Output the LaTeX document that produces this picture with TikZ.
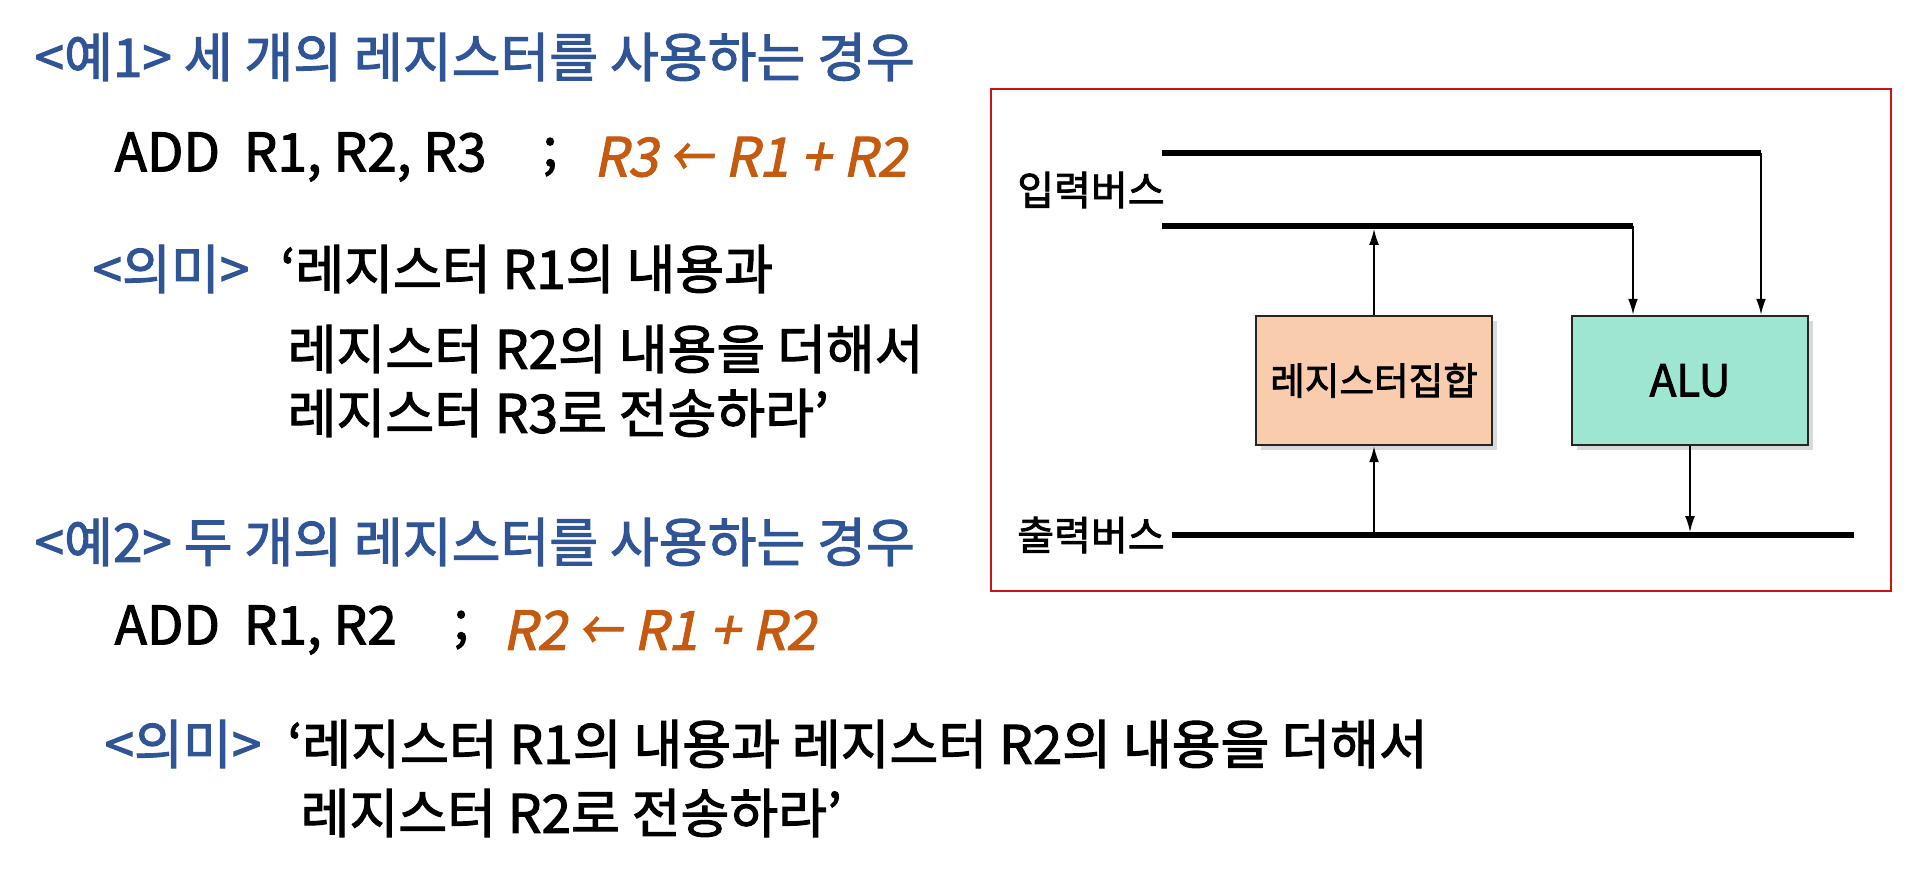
\documentclass[tikz,border=0pt]{standalone}
\usepackage{fontspec}
\setmainfont[AutoFakeSlant=0.2, FakeBold=2]{Noto Sans CJK KR}
\usetikzlibrary{arrows.meta,shadows}
\definecolor{TitleBlue}{RGB}{47,85,151}
\definecolor{DarkOrange}{RGB}{197,90,17}
\definecolor{FrameRed}{RGB}{200,20,20}
\definecolor{RegPeach}{RGB}{248,204,173}
\definecolor{AluTeal}{RGB}{158,230,210}
\newcommand{\shortarrow}{\scalebox{0.8}[1]{←}}
\tikzset{
	txt/.style={anchor=west, inner sep=0pt, font=\fontsize{15.1}{18}\selectfont},
	headline/.style={txt, text=TitleBlue},
	calc/.style={txt, text=DarkOrange, font=\fontsize{15.3}{18}\selectfont\itshape},
	tag/.style={inner sep=0pt, font=\fontsize{11.4}{14}\selectfont},
	unitbox/.style={draw=black!85, line width=0.8pt, minimum width=2.36cm, minimum height=1.29cm,
		inner sep=0pt, drop shadow={opacity=0.3, shadow xshift=1.5pt, shadow yshift=-1.5pt}},
	bus/.style={line width=1.7pt},
	flow/.style={-{Latex[length=4.5pt, width=2.8pt]}, line width=0.4pt},
}
\begin{document}
\begin{tikzpicture}
		\useasboundingbox (0,0) rectangle (19.18,-8.78);
		% 예1
		\node[headline] (ex1) at (0.34,-0.57) {<예1> 세 개의 레지스터를 사용하는 경우};
		\node[txt] (add1) at (1.14,-1.57) {ADD\ \ R1, R2, R3};
		\node[txt] (semi1) at (5.42,-1.57) {;};
		\node[calc] (op1) at (5.93,-1.57) {R3 \shortarrow{} R1 + R2};
		\node[headline] (mean1) at (0.92,-2.69) {<의미>};
		\node[txt] (m1a) at (2.80,-2.69) {‘레지스터 R1의 내용과};
		\node[txt] (m1b) at (2.87,-3.49) {레지스터 R2의 내용을 더해서};
		\node[txt] (m1c) at (2.87,-4.13) {레지스터 R3로 전송하라’};
		% 예2
		\node[headline] (ex2) at (0.34,-5.42) {<예2> 두 개의 레지스터를 사용하는 경우};
		\node[txt] (add2) at (1.14,-6.30) {ADD\ \ R1, R2};
		\node[txt] (semi2) at (4.53,-6.30) {;};
		\node[calc] (op2) at (5.02,-6.30) {R2 \shortarrow{} R1 + R2};
		\node[headline] (mean2) at (1.04,-7.44) {<의미>};
		\node[txt] (m2a) at (2.87,-7.44) {‘레지스터 R1의 내용과 레지스터 R2의 내용을 더해서};
		\node[txt] (m2b) at (3.00,-8.13) {레지스터 R2로 전송하라’};
		% 버스 구조
		\draw[FrameRed, line width=0.5pt] (9.91,-0.89) rectangle (18.91,-5.91);
		\node[unitbox, fill=RegPeach, font=\fontsize{10.7}{13}\selectfont] (regs) at (13.74,-3.805) {레지스터집합};
		\node[unitbox, fill=AluTeal, font=\fontsize{12.5}{15}\selectfont] (alu) at (16.90,-3.805) {ALU};
		\node[tag] (inlbl) at (10.91,-1.90) {입력버스};
		\node[tag] (outlbl) at (10.91,-5.35) {출력버스};
		\coordinate (in1s) at (11.62,-1.53);
		\coordinate (in1e) at (17.61,-1.53);
		\coordinate (in2s) at (11.62,-2.26);
		\coordinate (in2e) at (16.33,-2.26);
		\coordinate (outs) at (11.72,-5.35);
		\coordinate (oute) at (18.54,-5.35);
		\draw[bus] (in1s) -- (in1e);
		\draw[bus] (in2s) -- (in2e);
		\draw[bus] (outs) -- (oute);
		\draw[flow, shorten >=0.85pt] (regs.north) -- (regs.north |- in2s);
		\draw[flow] (in2e) -- (in2e |- alu.north);
		\draw[flow] (in1e) -- (in1e |- alu.north);
		\draw[flow] (regs.south |- outs) -- (regs.south);
		\draw[flow, shorten >=0.85pt] (alu.south) -- (alu.south |- outs);
	\end{tikzpicture}
\end{document}
